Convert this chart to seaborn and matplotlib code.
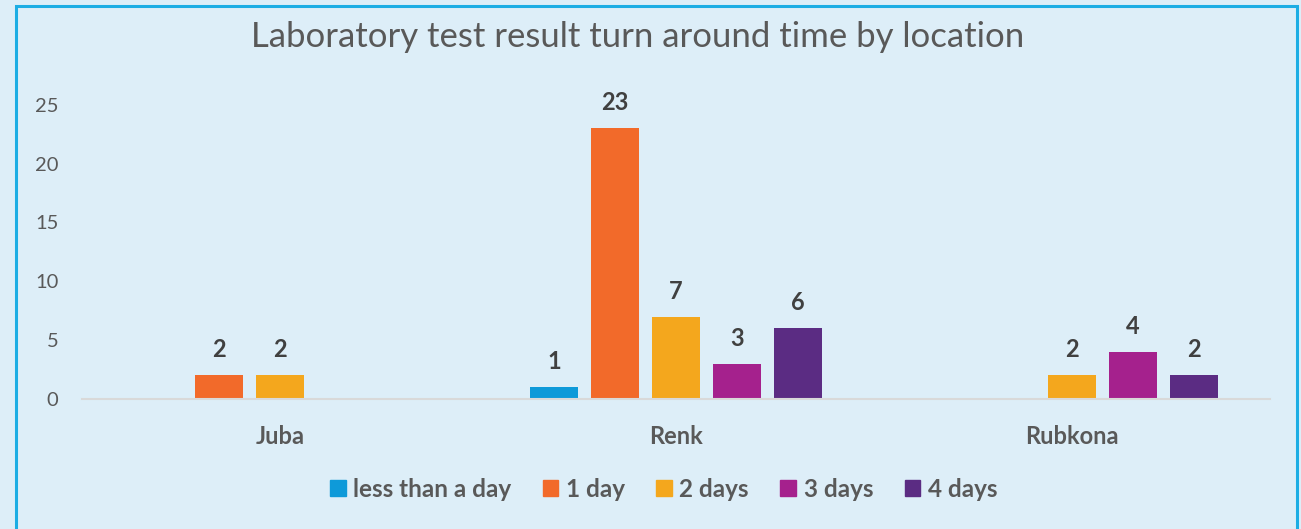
import matplotlib
matplotlib.use('Agg')
import matplotlib.pyplot as plt
import matplotlib.patches as mpatches
import seaborn as sns
import pandas as pd

# -- Data --------------------------------------------------------------------
locations = ['Juba', 'Renk', 'Rubkona']
durations = ['less than a day', '1 day', '2 days', '3 days', '4 days']
counts = {
    'less than a day': [0, 1, 0],
    '1 day':           [2, 23, 0],
    '2 days':          [2, 7, 2],
    '3 days':          [0, 3, 4],
    '4 days':          [0, 6, 2],
}
colors = ['#0E9AD9', '#F26A2A', '#F4A71D', '#A5218D', '#5B2C83']

rows = []
for d in durations:
    for loc, v in zip(locations, counts[d]):
        rows.append({'Location': loc, 'Duration': d, 'Count': v})
df = pd.DataFrame(rows)

# -- Style -------------------------------------------------------------------
BG = '#DDEEF8'
sns.set_style('white')
plt.rcParams['font.family'] = ['Lato', 'DejaVu Sans']

fig = plt.figure(figsize=(13.01, 5.29), dpi=100, facecolor=BG)
ax = fig.add_axes([0.063, 0.246, 0.913, 0.556])
ax.set_facecolor(BG)

sns.barplot(data=df, x='Location', y='Count', hue='Duration',
            hue_order=durations, palette=colors, saturation=1,
            width=0.77, gap=0.21, linewidth=0, ax=ax)

ax.set_ylim(0, 25)
ax.set_yticks([0, 5, 10, 15, 20, 25])
ax.set_xlabel(''); ax.set_ylabel('')
for s in ['top', 'right', 'left']:
    ax.spines[s].set_visible(False)
ax.spines['bottom'].set_color('#D9D9D9')
ax.spines['bottom'].set_linewidth(1.5)
ax.tick_params(axis='y', length=0, pad=17, labelsize=14.5, labelcolor='#595959')
ax.tick_params(axis='x', length=0, pad=19, labelsize=17, labelcolor='#595959')
for t in ax.get_xticklabels():
    t.set_fontweight('bold')

for cont in ax.containers:
    labels = [str(int(v)) if v > 0 else '' for v in cont.datavalues]
    ax.bar_label(cont, labels=labels, padding=10, fontsize=17,
                 fontweight='bold', color='#404040')

handles = [mpatches.Patch(color=c, label=d) for c, d in zip(colors, durations)]
ax.legend(handles=handles, loc='center', bbox_to_anchor=(0.51, 0.075),
          bbox_transform=fig.transFigure, ncol=5, frameon=False,
          handlelength=0.65, handleheight=0.65, handletextpad=0.3,
          columnspacing=1.3, prop={'weight': 'bold', 'size': 17.5},
          labelcolor='#595959')

fig.text(0.49, 0.93, 'Laboratory test result turn around time by location',
         ha='center', va='center', fontsize=25, color='#595959')

# chart frame (bottom edge runs past the image)
frame = mpatches.Rectangle((16 / 1301, -0.05), (1297 - 16) / 1301, 1 - 6 / 529 + 0.05,
                           transform=fig.transFigure, fill=False,
                           edgecolor='#1CADE4', linewidth=2.2)
fig.patches.append(frame)

fig.savefig('out.png', dpi=100, facecolor=BG)
